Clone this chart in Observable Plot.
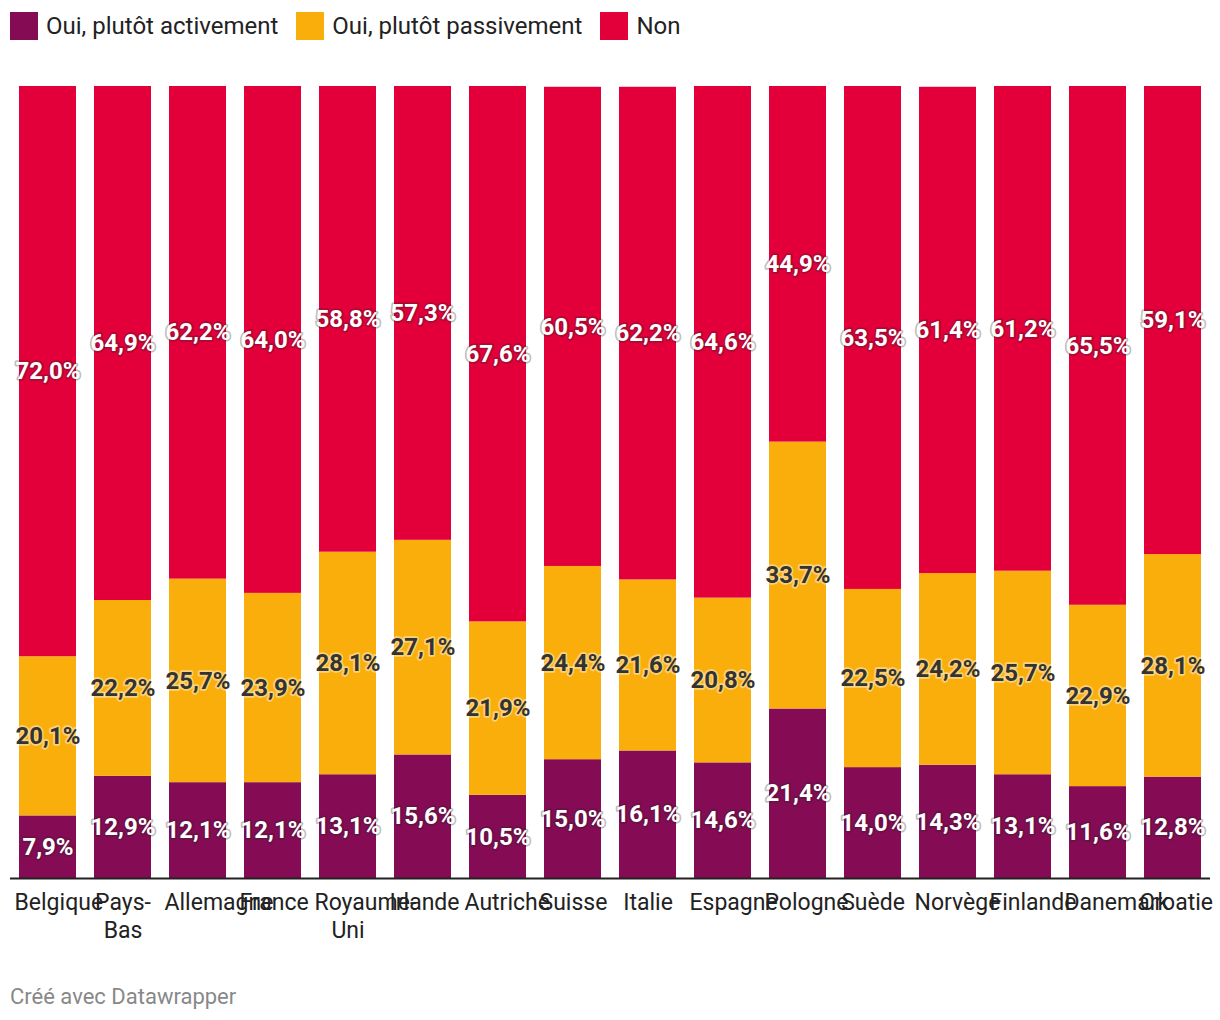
<!DOCTYPE html>
<html>
<head>
<meta charset="utf-8">
<script src="https://cdn.jsdelivr.net/npm/d3@7"></script>
<script src="https://cdn.jsdelivr.net/npm/@observablehq/plot@0.6"></script>
<style>
  html, body { margin: 0; padding: 0; background: #fff; }
  body { width: 1220px; height: 1020px; position: relative; font-family: Roboto, "Noto Sans", sans-serif; overflow: hidden; }
  #legend { position: absolute; left: 10px; top: 12px; display: flex; align-items: center; font-size: 24px; color: #222; }
  .item { display: flex; align-items: center; margin-right: 18px; }
  .sw { width: 28px; height: 28px; margin-right: 8px; }
  #chart { position: absolute; left: 0; top: 60px; }
  #footer { position: absolute; left: 10px; top: 984px; font-size: 22px; color: #888; }
</style>
</head>
<body>
<div id="legend"></div>
<div id="chart"></div>
<div id="footer">Créé avec Datawrapper</div>
<script>
const countries = ["Belgique","Pays-Bas","Allemagne","France","Royaume-Uni","Irlande","Autriche","Suisse","Italie","Espagne","Pologne","Suède","Norvège","Finlande","Danemark","Croatie"];
const tickLabels = ["Belgique","Pays-\nBas","Allemagne","France","Royaume-\nUni","Irlande","Autriche","Suisse","Italie","Espagne","Pologne","Suède","Norvège","Finlande","Danemark","Croatie"];
const actif  = [7.9,12.9,12.1,12.1,13.1,15.6,10.5,15.0,16.1,14.6,21.4,14.0,14.3,13.1,11.6,12.8];
const passif = [20.1,22.2,25.7,23.9,28.1,27.1,21.9,24.4,21.6,20.8,33.7,22.5,24.2,25.7,22.9,28.1];
const non    = [72.0,64.9,62.2,64.0,58.8,57.3,67.6,60.5,62.2,64.6,44.9,63.5,61.4,61.2,65.5,59.1];
const seriesNames = ["Oui, plutôt activement","Oui, plutôt passivement","Non"];
const seriesColors = ["#850b54","#f9ae0b","#e3003a"];

const rows = [];
countries.forEach((c, i) => {
  rows.push({country: c, series: seriesNames[0], value: actif[i]});
  rows.push({country: c, series: seriesNames[1], value: passif[i]});
  rows.push({country: c, series: seriesNames[2], value: non[i]});
});
const fmt = v => v.toFixed(1).replace(".", ",") + "%";

// legend
const lg = document.getElementById("legend");
seriesNames.forEach((s, i) => {
  const it = document.createElement("div"); it.className = "item";
  const sw = document.createElement("div"); sw.className = "sw"; sw.style.background = seriesColors[i];
  const tx = document.createElement("span"); tx.textContent = s;
  it.appendChild(sw); it.appendChild(tx); lg.appendChild(it);
});

// category label lines: labels wider than the label box overflow to the right
const TICK_FONT = 23;
const BOX = 67; // label box width (bar width + 10)
const ctx = document.createElement("canvas").getContext("2d");
ctx.font = `${TICK_FONT}px Roboto`;
const labelLines = [];
countries.forEach((c, i) => {
  tickLabels[i].split("\n").forEach((t, li) => {
    labelLines.push({country: c, text: t, line: li, overflow: ctx.measureText(t).width > BOX});
  });
});
const labelMark = (line, overflow) => Plot.text(
  labelLines.filter(d => d.line === line && d.overflow === overflow),
  {x: "country", y: () => 0, text: "text", fontSize: TICK_FONT, fill: "#222",
   lineAnchor: "middle", dy: 24 + line * 28,
   textAnchor: overflow ? "start" : "middle", dx: overflow ? -BOX / 2 : 0}
);

const chart = Plot.plot({
  width: 1220,
  height: 890,
  marginTop: 26,
  marginBottom: 72,
  marginLeft: 10,
  marginRight: 10,
  style: {fontFamily: "Roboto, sans-serif", background: "white"},
  x: {domain: countries, paddingInner: 0.24, paddingOuter: 0.12, label: null, axis: null},
  y: {domain: [0, 100], axis: null},
  color: {domain: seriesNames, range: seriesColors},
  marks: [
    Plot.barY(rows, {x: "country", y: "value", fill: "series", z: "series"}),
    Plot.text(rows, Plot.stackY({
      x: "country", y: "value", z: "series",
      text: d => d.series === seriesNames[1] ? null : fmt(d.value),
      fill: "white", stroke: "#222", strokeOpacity: 0.3, strokeWidth: 3.5,
      fontSize: 24, fontWeight: "bold"
    })),
    Plot.text(rows, Plot.stackY({
      x: "country", y: "value", z: "series",
      text: d => d.series === seriesNames[1] ? fmt(d.value) : null,
      fill: "#333", stroke: "#fff", strokeOpacity: 0.45, strokeWidth: 3.5,
      fontSize: 24, fontWeight: "bold"
    })),
    Plot.ruleY([0], {stroke: "#222", strokeWidth: 2}),
    labelMark(0, false), labelMark(0, true),
    labelMark(1, false), labelMark(1, true)
  ]
});
document.getElementById("chart").appendChild(chart);
</script>
</body>
</html>
